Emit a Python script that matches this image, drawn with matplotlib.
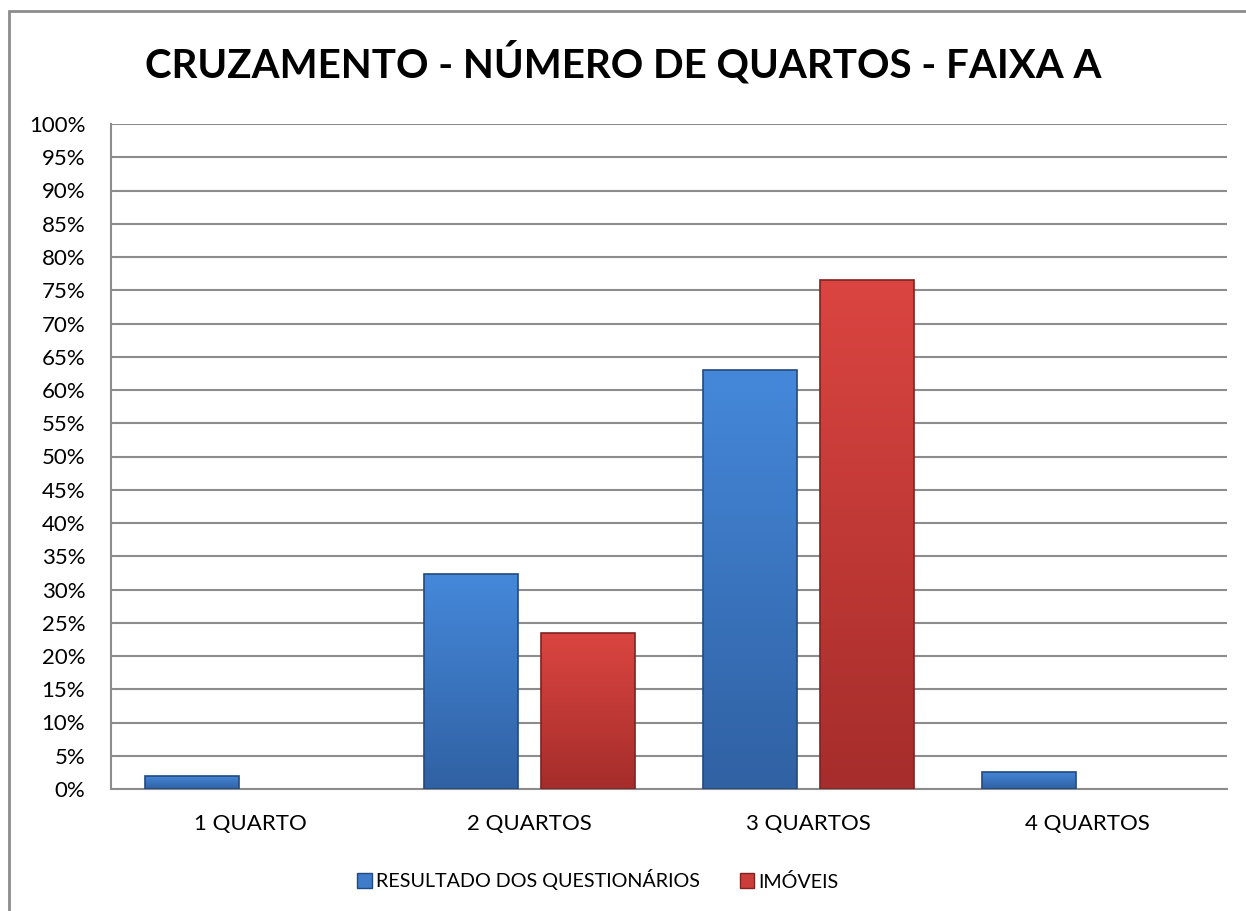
import numpy as np
import matplotlib.pyplot as plt
from matplotlib.patches import Rectangle, Patch
from matplotlib.colors import LinearSegmentedColormap
from matplotlib.ticker import MultipleLocator, PercentFormatter

plt.rcParams['font.family'] = ['Lato', 'DejaVu Sans']

categories = ['1 QUARTO', '2 QUARTOS', '3 QUARTOS', '4 QUARTOS']
questionarios = [2.0, 32.3, 63.0, 2.6]
imoveis = [0.0, 23.5, 76.5, 0.0]
series_names = ['RESULTADO DOS QUESTIONÁRIOS', 'IMÓVEIS']

fig = plt.figure(figsize=(12.46, 9.11), dpi=100)
ax = fig.add_axes([111/1246, 1-789/911, (1227-111)/1246, (789-124)/911])

x = np.arange(len(categories))
w = 0.335
off = 0.209
blue_cm = LinearSegmentedColormap.from_list('b', ['#3061A3', '#4588DA'])
red_cm = LinearSegmentedColormap.from_list('r', ['#A52D2B', '#DB4541'])
grad = np.linspace(0, 1, 256).reshape(-1, 1)

# bars with a vertical gradient clipped to each bar
for vals, off_i, cmap, edge in [(questionarios, -off, blue_cm, '#23497F'),
                                (imoveis, off, red_cm, '#7E2321')]:
    bars = ax.bar(x + off_i, vals, w, color='none', edgecolor=edge, linewidth=1.2, zorder=4)
    for b in bars:
        h = b.get_height()
        if h <= 0:
            b.set_visible(False)
            continue
        x0 = b.get_x()
        im = ax.imshow(grad, cmap=cmap, origin='lower', aspect='auto',
                       extent=[x0, x0 + b.get_width(), 0, h], zorder=3)
        im.set_clip_path(b)

ax.set_xlim(-0.5, 3.5)
ax.set_ylim(0, 100)
ax.yaxis.set_major_locator(MultipleLocator(5))
ax.yaxis.set_major_formatter(PercentFormatter(decimals=0))
ax.set_xticks(x)
ax.set_xticklabels(categories)
ax.tick_params(axis='both', length=0, labelsize=16, colors='black')
ax.tick_params(axis='x', pad=18)
ax.tick_params(axis='y', pad=18.5)
ax.grid(axis='y', color='#8C8C8C', linewidth=1.5, zorder=0)
for s in ['top', 'right']:
    ax.spines[s].set_visible(False)
for s in ['left', 'bottom']:
    ax.spines[s].set_color('#8C8C8C')
    ax.spines[s].set_linewidth(1.5)

fig.text(0.5, 1-63/911, 'CRUZAMENTO - NÚMERO DE QUARTOS - FAIXA A',
         ha='center', va='center', fontsize=29, fontweight='bold')

handles = [Patch(facecolor='#3F7CC9', edgecolor='#23497F'),
           Patch(facecolor='#CC3E3B', edgecolor='#7E2321')]
fig.legend(handles, series_names, loc='center', bbox_to_anchor=(598/1246, 1-880/911),
           ncol=2, frameon=False, fontsize=14.2, handlelength=0.75, handleheight=0.75,
           handletextpad=0.2, columnspacing=2.0)

# outer chart border (right and bottom edges fall outside the image)
fig.patches.append(Rectangle((9/1246, -0.05), 1.0, 1-11/911+0.05, transform=fig.transFigure,
                             fill=False, edgecolor='#8C8C8C', linewidth=2))

fig.savefig('out.png', dpi=100)
